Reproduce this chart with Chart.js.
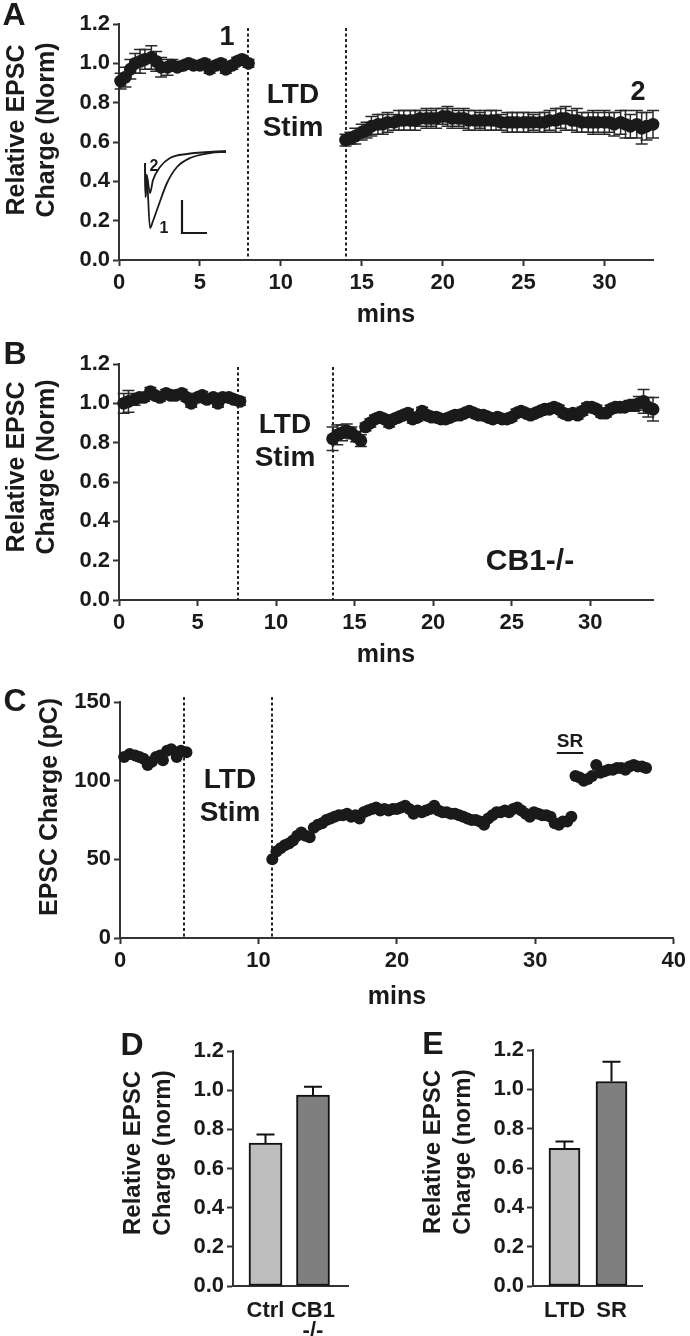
<!DOCTYPE html>
<html><head><meta charset="utf-8">
<script src="https://cdn.jsdelivr.net/npm/chart.js@4.4.1/dist/chart.umd.min.js"></script>
<style>
html,body{margin:0;padding:0;background:#fff;width:690px;height:1336px;overflow:hidden;position:relative;}
canvas{position:absolute;left:0;}
</style></head><body>
<canvas id="cA" width="690" height="330" style="top:0px"></canvas>
<canvas id="cInset" width="100" height="100" style="top:141px;left:135px"></canvas>
<canvas id="cB" width="690" height="340" style="top:330px"></canvas>
<canvas id="cC" width="690" height="342" style="top:670px"></canvas>
<canvas id="cD" width="690" height="316" style="top:1020px"></canvas>
<canvas id="cE" width="690" height="316" style="top:1020px"></canvas>
<script>
// ---------- DATA ----------
// Panel A (control): baseline and post-LTD, normalized EPSC charge (mean, SEM)
const tA1 = [0.1,0.4,0.7,1.0,1.3,1.6,2.0,2.3,2.6,3.0,3.3,3.6,4.0,4.3,4.6,5.0,5.3,5.6,6.0,6.3,6.6,7.0,7.3,7.6,8.0];
const vA1 = [0.91,0.93,0.97,1.00,1.01,1.02,1.03,1.01,0.98,0.98,0.99,0.98,0.99,1.00,0.99,0.99,1.00,0.97,0.99,1.00,0.97,0.99,1.01,1.02,1.00];
const eA1 = [0.04,0.05,0.05,0.05,0.06,0.05,0.06,0.05,0.05,0.04,0.03,0.02,0.02,0.02,0.02,0.02,0.02,0.02,0.02,0.02,0.02,0.02,0.02,0.02,0.02];
const tA2 = [14.0,14.3,14.6,15.0,15.3,15.6,16.0,16.3,16.6,17.0,17.3,17.6,18.0,18.3,18.6,19.0,19.3,19.6,20.0,20.3,20.6,21.0,21.3,21.6,22.0,22.3,22.6,23.0,23.3,23.6,24.0,24.3,24.6,25.0,25.3,25.6,26.0,26.3,26.6,27.0,27.3,27.6,28.0,28.3,28.6,29.0,29.3,29.6,30.0,30.3,30.6,31.0,31.3,31.6,32.0,32.3,32.6,33.0];
const vA2 = [0.61,0.62,0.63, 0.65,0.66,0.68, 0.69,0.69,0.70, 0.70,0.71,0.71, 0.71,0.71,0.72, 0.72,0.72,0.72, 0.73,0.73,0.72, 0.72,0.72,0.71, 0.71,0.71,0.71, 0.71,0.71,0.70, 0.70,0.70,0.70, 0.70,0.70,0.70, 0.70,0.70,0.71, 0.71,0.72,0.72, 0.71,0.71,0.70, 0.70,0.70,0.70, 0.70,0.70,0.69, 0.70,0.69,0.68, 0.69,0.67,0.68, 0.69];
const eA2 = [0.03,0.03,0.04, 0.04,0.04,0.05, 0.05,0.05,0.05, 0.04,0.05,0.05, 0.05,0.05,0.04, 0.05,0.04,0.05, 0.04,0.05,0.05, 0.04,0.05,0.05, 0.05,0.04,0.05, 0.05,0.05,0.04, 0.05,0.05,0.05, 0.05,0.05,0.04, 0.05,0.05,0.05, 0.06,0.05,0.06, 0.05,0.06,0.05, 0.05,0.06,0.05, 0.06,0.05,0.06, 0.06,0.07,0.06, 0.07,0.08,0.07, 0.07];
const stimA = [8, 14];

// Inset traces (EPSCs at time points 1 and 2) and scale bar
const insetT1 = [10, 10.6, 11.6, 15, 18, 23, 32, 42, 55, 75, 91];
const insetV1 = [-12, -46, -24, -77, -70, -56, -32, -16, -7, -2, -1];
const insetT2 = [10, 10.6, 11.6, 15, 18, 25, 35, 52, 91];
const insetV2 = [-12, -46, -24, -42, -29, -16, -7, -3, 0];
const scaleBarT = [47, 47, 72];
const scaleBarV = [-49, -82, -82];

// Panel B (CB1-/-)
const tB1 = [0.3,0.6,1.0,1.3,1.6,2.0,2.3,2.6,3.0,3.3,3.6,4.0,4.3,4.6,5.0,5.3,5.6,6.0,6.3,6.6,7.0,7.3,7.7];
const vB1 = [1.00,1.01,1.02,1.03,1.03,1.06,1.04,1.03,1.05,1.04,1.04,1.05,1.03,1.00,1.03,1.04,1.02,1.03,1.00,1.03,1.03,1.02,1.01];
const eB1 = [0.05,0.055,0.03,0.02,0.02,0.02,0.02,0.02,0.02,0.02,0.02,0.02,0.02,0.02,0.02,0.02,0.02,0.02,0.02,0.02,0.02,0.02,0.02];
const tB2 = [13.6,13.9,14.2,14.5,14.8,15.1,15.4,15.7,16.0,16.3,16.6,16.9,17.2,17.5,17.8,18.1,18.4,18.7,19.0,19.3,19.6,19.9,20.2,20.5,20.8,21.1,21.4,21.7,22.0,22.3,22.6,22.9,23.2,23.5,23.8,24.1,24.4,24.7,25.0,25.3,25.6,25.9,26.2,26.5,26.8,27.1,27.4,27.7,28.0,28.3,28.6,28.9,29.2,29.5,29.8,30.1,30.4,30.7,31.0,31.3,31.6,31.9,32.2,32.5,32.8,33.1,33.4,33.7,34.0];
const vB2 = [0.82,0.84,0.85,0.86,0.85,0.83,0.81,0.88,0.90,0.92, 0.93,0.92,0.90,0.92,0.93,0.94,0.95,0.92,0.93,0.96, 0.94,0.93,0.93,0.92,0.92,0.93,0.94,0.94,0.95,0.96, 0.95,0.94,0.94,0.93,0.92,0.93,0.92,0.92,0.93,0.95, 0.96,0.95,0.94,0.95,0.96,0.97,0.97,0.98,0.97,0.95, 0.94,0.95,0.94,0.96,0.98,0.98,0.97,0.95,0.95,0.97, 0.98,0.98,0.98,0.99,0.99,1.00,1.01,0.98,0.97];
const eB2 = [0.06,0.05,0.04,0.035,0.03,0.025,0.03,0.02,0.02,0.02, 0.02,0.02,0.02,0.02,0.02,0.02,0.02,0.02,0.02,0.02, 0.02,0.02,0.02,0.02,0.02,0.02,0.02,0.02,0.02,0.02, 0.02,0.02,0.02,0.02,0.02,0.02,0.02,0.02,0.02,0.02, 0.02,0.02,0.02,0.02,0.02,0.02,0.02,0.02,0.02,0.02, 0.02,0.02,0.02,0.02,0.02,0.02,0.02,0.02,0.02,0.02, 0.02,0.025,0.02,0.025,0.03,0.035,0.06,0.05,0.06];
const stimB = [7.6, 13.6];

// Panel C (single cell, pC)
const tC1 = [0.3,0.7,1.1,1.4,1.7,2.0,2.3,2.6,2.9,3.1,3.4,3.7,4.1,4.4,4.8];
const vC1 = [115,117,116,115,114,110,112,115,116,113,119,120,115,119,118];
const tC2 = [11.0,11.3,11.6,11.9,12.2,12.5,12.8,13.1,13.4,13.7,14.0,14.3,14.6,14.9,15.2,15.5,15.8,16.1,16.4,16.7,17.0,17.3,17.6,17.9,18.2,18.5,18.8,19.1,19.4,19.7,20.0,20.3,20.6,20.9,21.2,21.5,21.8,22.1,22.4,22.7,23.0,23.3,23.6,23.9,24.2,24.5,24.8,25.1,25.4,25.7,26.0,26.3,26.6,26.9,27.2,27.5,27.8,28.1,28.4,28.7,29.0,29.3,29.6,29.9,30.2,30.5,30.8,31.1,31.4,31.7,32.0,32.3,32.6];
const vC2 = [50,55,57,59,60,62,65,67,65,64, 70,72,73,75,76,77,78,78,79,77, 78,76,80,81,82,83,81,82,81,82, 82,83,84,82,79,81,80,81,82,84, 81,80,80,79,79,78,77,76,75,75, 74,72,76,78,80,80,81,80,82,83, 81,79,77,80,79,78,78,77,73,72, 74,74,77];
const tC3 = [32.9,33.2,33.5,33.8,34.1,34.4,34.7,35.0,35.3,35.6,35.9,36.2,36.5,36.8,37.1,37.4,37.7,38.0];
const vC3 = [103,102,100,101,103,110,105,106,107,107,108,108,107,109,110,109,109,108];
const stimC = [4.6, 11.0];

// Panel D / E bar summaries
const catsD = ['Ctrl', ['CB1','-/-']];
const posD = [1, 2];
const meanD = [0.73, 0.975];
const semD = [0.044, 0.042];
const catsE = ['LTD', 'SR'];
const posE = [1, 2];
const meanE = [0.70, 1.04];
const semE = [0.035, 0.10];

// ---------- STYLE / HELPERS ----------
const FONT = '"Liberation Sans", Arial, Helvetica, sans-serif';
const INK = '#1a1a1a';
Chart.defaults.font.family = FONT;
Chart.defaults.font.weight = 'bold';
Chart.defaults.color = INK;

function pts(t, v) { return t.map((x, i) => ({x: x, y: v[i]})); }

function errorBarPlugin(o) {
  return { id: 'errbars', beforeDatasetsDraw(chart) {
    const ctx = chart.ctx, x = chart.scales.x, y = chart.scales.y;
    ctx.save(); ctx.strokeStyle = o.color; ctx.lineWidth = o.width;
    chart.data.datasets.forEach(ds => {
      if (!ds.errors) return;
      ds.data.forEach((p, i) => {
        const e = ds.errors[i]; if (!e) return;
        const px = x.getPixelForValue(p.x);
        const yT = y.getPixelForValue(p.y + e);
        const yB = o.upOnly ? y.getPixelForValue(p.y) : y.getPixelForValue(p.y - e);
        ctx.beginPath();
        ctx.moveTo(px, yT); ctx.lineTo(px, yB);
        ctx.moveTo(px - o.cap, yT); ctx.lineTo(px + o.cap, yT);
        if (!o.upOnly) { ctx.moveTo(px - o.cap, yB); ctx.lineTo(px + o.cap, yB); }
        ctx.stroke();
      });
    });
    ctx.restore();
  }};
}

function vlinePlugin(values, topShift) {
  return { id: 'vlines', beforeDatasetsDraw(chart) {
    const ctx = chart.ctx, a = chart.chartArea, x = chart.scales.x;
    ctx.save(); ctx.strokeStyle = '#222'; ctx.lineWidth = 2; ctx.setLineDash([3, 2.5]);
    values.forEach(v => {
      const px = Math.round(x.getPixelForValue(v));
      ctx.beginPath(); ctx.moveTo(px, a.top + topShift); ctx.lineTo(px, a.bottom); ctx.stroke();
    });
    ctx.restore();
  }};
}

function textPlugin(items, offTop) {
  return { id: 'texts', afterDraw(chart) {
    const ctx = chart.ctx;
    items.forEach(it => {
      ctx.save();
      ctx.font = 'bold ' + it.s + 'px ' + FONT;
      ctx.fillStyle = INK; ctx.textAlign = 'center'; ctx.textBaseline = 'middle';
      ctx.translate(it.x, it.y - offTop);
      if (it.rot) ctx.rotate(-Math.PI / 2);
      ctx.fillText(it.t, 0, 0);
      if (it.ul) {
        const w = ctx.measureText(it.t).width;
        ctx.strokeStyle = INK; ctx.lineWidth = 2;
        ctx.beginPath(); ctx.moveTo(-w / 2, it.ul); ctx.lineTo(w / 2, it.ul); ctx.stroke();
      }
      ctx.restore();
    });
  }};
}

function axisY(left, max, step, fmt, tickSize) {
  return {
    type: 'linear', min: 0, max: max,
    afterFit: s => { s.width = left; },
    ticks: { stepSize: step, includeBounds: false, padding: 3, font: {size: tickSize, weight: 'bold'}, color: INK, callback: fmt },
    grid: { display: true, drawOnChartArea: false, drawTicks: true, tickLength: 6, tickWidth: 2, tickColor: '#333' },
    border: { display: true, color: '#333', width: 2 }
  };
}

function scatterPanel(id, top, height, area, xMax, xStep, yAxis, series, r, stim, stimShift, texts) {
  return new Chart(document.getElementById(id), {
    type: 'scatter',
    data: { datasets: series.map(s => ({
      data: pts(s.t, s.v), errors: s.e,
      pointRadius: r, pointHoverRadius: r, pointBackgroundColor: INK, pointBorderWidth: 0,
      clip: false, showLine: false })) },
    options: {
      responsive: false, animation: false, events: [],
      layout: { padding: { left: 0, top: area.top - top, right: 690 - area.right, bottom: 0 } },
      plugins: { legend: { display: false }, tooltip: { enabled: false } },
      scales: {
        x: { type: 'linear', min: 0, max: xMax, offset: false,
             afterFit: s => { s.height = top + height - area.bottom; },
             ticks: { stepSize: xStep, includeBounds: false, padding: 4, maxRotation: 0, font: {size: 22, weight: 'bold'}, color: INK },
             grid: { display: true, offset: false, drawOnChartArea: false, drawTicks: true, tickLength: 6, tickWidth: 2, tickColor: '#333' },
             border: { display: true, color: '#333', width: 2 },
             title: { display: true, text: 'mins', font: {size: 25, weight: 'bold'}, color: INK, padding: {top: 0, bottom: 0} } },
        y: yAxis
      }
    },
    plugins: [vlinePlugin(stim, stimShift), errorBarPlugin({color: '#2a2a2a', width: 1.5, cap: 6, upOnly: false}), textPlugin(texts, top)]
  });
}

const fmt1 = v => Number(v).toFixed(1);
const fmt0 = v => String(Math.round(v));

// ---------- PANEL A ----------
scatterPanel('cA', 0, 330, {left: 119, right: 653, top: 24, bottom: 260}, 33, 5,
  axisY(119, 1.2, 0.2, fmt1, 22),
  [{t: tA1, v: vA1, e: eA1}, {t: tA2, v: vA2, e: eA2}], 6.4, stimA, 4,
  [ {t: 'A', x: 14, y: 16, s: 32},
    {t: 'Relative EPSC', x: 17, y: 130, s: 25, rot: true},
    {t: 'Charge (Norm)', x: 47, y: 130, s: 25, rot: true},
    {t: '1', x: 227, y: 38, s: 27},
    {t: 'LTD', x: 293, y: 95, s: 28}, {t: 'Stim', x: 293, y: 128, s: 28},
    {t: '2', x: 638, y: 93, s: 27},
    {t: '2', x: 154, y: 167, s: 16}, {t: '1', x: 164, y: 229, s: 16} ]);

// Inset traces
new Chart(document.getElementById('cInset'), {
  type: 'line',
  data: { datasets: [
    { data: pts(insetT1, insetV1), borderColor: INK, borderWidth: 1.8, pointRadius: 0, cubicInterpolationMode: 'monotone', fill: false },
    { data: pts(insetT2, insetV2), borderColor: INK, borderWidth: 1.8, pointRadius: 0, cubicInterpolationMode: 'monotone', fill: false },
    { data: pts(scaleBarT, scaleBarV), borderColor: INK, borderWidth: 2.2, pointRadius: 0, tension: 0, fill: false }
  ]},
  options: {
    responsive: false, animation: false, events: [],
    layout: { padding: 0 },
    plugins: { legend: { display: false }, tooltip: { enabled: false } },
    scales: { x: { type: 'linear', min: 0, max: 100, display: false }, y: { type: 'linear', min: -90, max: 10, display: false } }
  }
});

// ---------- PANEL B ----------
scatterPanel('cB', 330, 340, {left: 119, right: 653, top: 364, bottom: 600}, 34, 5,
  axisY(119, 1.2, 0.2, fmt1, 22),
  [{t: tB1, v: vB1, e: eB1}, {t: tB2, v: vB2, e: eB2}], 6.4, stimB, 3,
  [ {t: 'B', x: 15, y: 355, s: 32},
    {t: 'Relative EPSC', x: 17, y: 467, s: 25, rot: true},
    {t: 'Charge (Norm)', x: 47, y: 467, s: 25, rot: true},
    {t: 'LTD', x: 285, y: 425, s: 28}, {t: 'Stim', x: 285, y: 458, s: 28},
    {t: 'CB1-/-', x: 530, y: 562, s: 30} ]);

// ---------- PANEL C ----------
scatterPanel('cC', 670, 342, {left: 120, right: 677, top: 702, bottom: 938}, 40, 10,
  axisY(120, 150, 50, fmt0, 22),
  [{t: tC1, v: vC1}, {t: tC2, v: vC2}, {t: tC3, v: vC3}], 6, stimC, -5,
  [ {t: 'C', x: 15, y: 702, s: 32},
    {t: 'EPSC Charge (pC)', x: 50, y: 807, s: 25, rot: true},
    {t: 'LTD', x: 230, y: 780, s: 28}, {t: 'Stim', x: 230, y: 813, s: 28},
    {t: 'SR', x: 570, y: 742, s: 19, ul: 11} ]);

// ---------- PANELS D / E ----------
function barPanel(id, area, pos, mean, sem, cats, colors, bw, xMin, xMax, texts) {
  const top = 1020, height = 316;
  return new Chart(document.getElementById(id), {
    type: 'bar',
    data: { datasets: [{ data: pts(pos, mean), errors: sem, backgroundColor: colors, borderColor: '#111', borderWidth: 2, borderSkipped: false, barThickness: bw }] },
    options: {
      responsive: false, animation: false, events: [],
      layout: { padding: { left: 0, top: area.top - top, right: 690 - area.right, bottom: 0 } },
      plugins: { legend: { display: false }, tooltip: { enabled: false } },
      scales: {
        x: { type: 'linear', min: xMin, max: xMax, offset: false,
             afterFit: s => { s.height = top + height - area.bottom; },
             afterBuildTicks: s => { s.ticks = pos.map(v => ({value: v})); },
             ticks: { padding: 15, maxRotation: 0, autoSkip: false, font: {size: 22, weight: 'bold', lineHeight: 0.92}, color: INK,
                      callback: v => cats[pos.indexOf(v)] },
             grid: { display: false, drawTicks: false, offset: false },
             border: { display: true, color: '#333', width: 2 } },
        y: axisY(area.left, 1.2, 0.2, fmt1, 22)
      }
    },
    plugins: [errorBarPlugin({color: '#111', width: 2, cap: 9, upOnly: true}), textPlugin(texts, top)]
  });
}

barPanel('cD', {left: 233, right: 348, top: 1051, bottom: 1286}, posD, meanD, semD, catsD, ['#bdbdbd', '#7f7f7f'], 33, 0.316, 2.737,
  [ {t: 'D', x: 132, y: 1046, s: 32},
    {t: 'Relative EPSC', x: 133, y: 1153, s: 24, rot: true},
    {t: 'Charge (norm)', x: 163, y: 1153, s: 24, rot: true} ]);

barPanel('cE', {left: 533, right: 642, top: 1050, bottom: 1286}, posE, meanE, semE, catsE, ['#bdbdbd', '#7f7f7f'], 31, 0.33, 2.649,
  [ {t: 'E', x: 433, y: 1045, s: 32},
    {t: 'Relative EPSC', x: 433, y: 1152, s: 24, rot: true},
    {t: 'Charge (norm)', x: 463, y: 1152, s: 24, rot: true} ]);
</script>
</body></html>
